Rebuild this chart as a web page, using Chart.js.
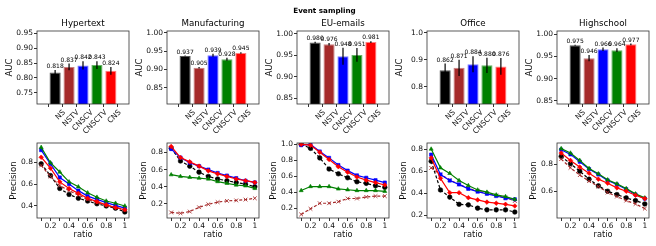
<!DOCTYPE html>
<html>
<head>
<meta charset="utf-8">
<script src="https://cdn.jsdelivr.net/npm/chart.js@4.4.0/dist/chart.umd.min.js"></script>
<style>
  body { margin: 0; background: #fff; }
  #fig { position: relative; width: 656px; height: 246px; overflow: hidden; }
  #fig canvas { position: absolute; }
</style>
</head>
<body>
<div id="fig"></div>
<script>
const methods = ['NS', 'NSTV', 'CNSCV', 'CNSCTV', 'CNS'];
const colors = ['#000000', '#a52a2a', '#0000ff', '#008000', '#ff0000'];
const edgeColors = ['#555555', '#c98080', '#7a7aff', '#66b366', '#ff8080'];
const networks = ['Hypertext', 'Manufacturing', 'EU-emails', 'Office', 'Highschool'];

// AUC bars (top row)
const aucHypertext = [0.818, 0.837, 0.842, 0.843, 0.824];
const aucManufacturing = [0.937, 0.905, 0.939, 0.928, 0.945];
const aucEuEmails = [0.980, 0.976, 0.948, 0.951, 0.981];
const aucOffice = [0.862, 0.871, 0.884, 0.880, 0.876];
const aucHighschool = [0.975, 0.946, 0.966, 0.964, 0.977];

const errHypertext = [0.009, 0.011, 0.014, 0.013, 0.013];
const errManufacturing = [0.001, 0.002, 0.004, 0.004, 0.002];
const errEuEmails = [0.002, 0.003, 0.020, 0.016, 0.002];
const errOffice = [0.025, 0.030, 0.030, 0.028, 0.031];
const errHighschool = [0.001, 0.007, 0.004, 0.004, 0.002];

const aucLimits = [[0.713, 0.957], [0.806, 1.005], [0.836, 1.007], [0.737, 1.007], [0.843, 1.007]];
const aucTicks = [
  [0.75, 0.80, 0.85, 0.90, 0.95],
  [0.85, 0.90, 0.95, 1.00],
  [0.85, 0.90, 0.95, 1.00],
  [0.8, 0.9, 1.0],
  [0.85, 0.90, 0.95, 1.00]
];
const aucDecimals = [2, 2, 2, 1, 2];

// Precision curves (bottom row), one row per method: NS, NSTV, CNSCV, CNSCTV, CNS
const ratios = [0.1, 0.2, 0.3, 0.4, 0.5, 0.6, 0.7, 0.8, 0.9, 1.0];
const precHypertext = [
  [0.785, 0.677, 0.560, 0.505, 0.470, 0.445, 0.420, 0.400, 0.380, 0.345],
  [0.770, 0.670, 0.585, 0.540, 0.500, 0.460, 0.430, 0.405, 0.390, 0.365],
  [0.910, 0.785, 0.660, 0.600, 0.540, 0.490, 0.460, 0.430, 0.405, 0.380],
  [0.935, 0.795, 0.710, 0.620, 0.575, 0.520, 0.480, 0.445, 0.425, 0.400],
  [0.845, 0.745, 0.620, 0.560, 0.515, 0.470, 0.440, 0.410, 0.385, 0.365]
];
const precManufacturing = [
  [0.850, 0.700, 0.640, 0.570, 0.520, 0.490, 0.470, 0.450, 0.430, 0.400],
  [0.100, 0.090, 0.110, 0.160, 0.195, 0.220, 0.235, 0.240, 0.250, 0.265],
  [0.840, 0.740, 0.680, 0.640, 0.600, 0.560, 0.530, 0.500, 0.470, 0.450],
  [0.540, 0.520, 0.510, 0.500, 0.490, 0.460, 0.440, 0.420, 0.410, 0.380],
  [0.870, 0.740, 0.690, 0.640, 0.585, 0.550, 0.520, 0.490, 0.470, 0.450]
];
const precEuEmails = [
  [1.000, 0.950, 0.830, 0.690, 0.630, 0.580, 0.530, 0.510, 0.480, 0.460],
  [0.120, 0.190, 0.260, 0.260, 0.280, 0.320, 0.320, 0.340, 0.350, 0.350],
  [0.990, 1.000, 0.910, 0.830, 0.740, 0.670, 0.610, 0.580, 0.550, 0.520],
  [0.420, 0.470, 0.470, 0.470, 0.440, 0.430, 0.420, 0.420, 0.420, 0.410],
  [1.000, 0.990, 0.900, 0.810, 0.720, 0.650, 0.590, 0.550, 0.520, 0.490]
];
const precOffice = [
  [0.690, 0.430, 0.365, 0.300, 0.295, 0.265, 0.250, 0.250, 0.250, 0.230],
  [0.630, 0.570, 0.520, 0.480, 0.445, 0.420, 0.400, 0.380, 0.360, 0.330],
  [0.750, 0.570, 0.515, 0.480, 0.440, 0.415, 0.395, 0.375, 0.355, 0.345],
  [0.800, 0.630, 0.580, 0.515, 0.470, 0.430, 0.410, 0.385, 0.370, 0.345],
  [0.720, 0.535, 0.405, 0.405, 0.360, 0.340, 0.320, 0.310, 0.300, 0.285]
];
const precHighschool = [
  [0.860, 0.805, 0.750, 0.690, 0.640, 0.600, 0.575, 0.550, 0.530, 0.505],
  [0.840, 0.775, 0.720, 0.675, 0.635, 0.590, 0.560, 0.530, 0.505, 0.470],
  [0.910, 0.875, 0.820, 0.765, 0.725, 0.680, 0.650, 0.615, 0.575, 0.545],
  [0.918, 0.885, 0.830, 0.770, 0.730, 0.685, 0.655, 0.620, 0.580, 0.550],
  [0.885, 0.830, 0.780, 0.735, 0.690, 0.660, 0.625, 0.600, 0.570, 0.545]
];
const precLimits = [[0.29, 0.975], [0.035, 0.91], [0.075, 1.017], [0.176, 0.855], [0.40, 0.96]];
const precTicks = [
  [0.4, 0.6, 0.8],
  [0.2, 0.4, 0.6, 0.8],
  [0.2, 0.4, 0.6, 0.8, 1.0],
  [0.2, 0.4, 0.6, 0.8],
  [0.6, 0.8]
];

const aucValues = [aucHypertext, aucManufacturing, aucEuEmails, aucOffice, aucHighschool];
const aucErrors = [errHypertext, errManufacturing, errEuEmails, errOffice, errHighschool];
const precValues = [precHypertext, precManufacturing, precEuEmails, precOffice, precHighschool];
const pointStyles = ['circle', 'crossRot', 'rect', 'triangle', 'rectRot'];
const dashes = [[3, 2], [3, 2], [], [], []];

Chart.defaults.font.family = 'DejaVu Sans';
Chart.defaults.color = '#111';
Chart.defaults.animation = false;

const fig = document.getElementById('fig');

function makeCanvas(left, top, w, h) {
  const c = document.createElement('canvas');
  c.width = w; c.height = h;
  c.style.left = left + 'px'; c.style.top = top + 'px';
  c.style.width = w + 'px'; c.style.height = h + 'px';
  fig.appendChild(c);
  return c;
}

// full box around the axes, like matplotlib spines
const framePlugin = {
  id: 'frame',
  afterDatasetsDraw(chart) {
    const a = chart.chartArea, ctx = chart.ctx;
    ctx.save();
    ctx.strokeStyle = '#333';
    ctx.lineWidth = 0.8;
    ctx.strokeRect(a.left, a.top, a.right - a.left, a.bottom - a.top);
    ctx.restore();
  }
};

// error bars + value labels on top of bars
const errorBarPlugin = {
  id: 'errbars',
  afterDatasetsDraw(chart, args, opts) {
    const xs = chart.scales.x, ys = chart.scales.y, ctx = chart.ctx;
    ctx.save();
    opts.values.forEach((v, i) => {
      const e = opts.errors[i];
      const x = xs.getPixelForValue(i);
      const y1 = ys.getPixelForValue(v - e), y2 = ys.getPixelForValue(v + e);
      ctx.strokeStyle = '#000';
      ctx.lineWidth = 1.2;
      ctx.beginPath(); ctx.moveTo(x, y1); ctx.lineTo(x, y2); ctx.stroke();
      ctx.fillStyle = '#000';
      ctx.font = '6px "DejaVu Sans"';
      ctx.textAlign = 'center';
      ctx.textBaseline = 'bottom';
      ctx.fillText(v.toFixed(3), x, y2 - 0.5);
    });
    ctx.restore();
  }
};

function yAxis(limits, ticks, decimals, label, titlePad) {
  return {
    type: 'linear', min: limits[0], max: limits[1],
    afterBuildTicks: s => { s.ticks = ticks.map(v => ({ value: v })); },
    afterFit: s => { s.width = 37; },
    grid: { drawOnChartArea: false, tickLength: 3, color: '#333' },
    border: { display: false },
    ticks: { font: { size: 7.5 }, padding: 1, callback: v => v.toFixed(decimals) },
    title: { display: true, text: label, font: { size: 8.6, lineHeight: 1 }, padding: { top: titlePad, bottom: 0 } }
  };
}

networks.forEach((name, k) => {
  // ---- top row: AUC bars ----
  const c1 = makeCanvas(130 * k, 0, 130, 135);
  const vals = aucValues[k];
  const plugins = {
    legend: { display: false },
    tooltip: { enabled: false },
    subtitle: {
      display: true, text: name, fullSize: false, color: '#000',
      font: { size: 8.7, lineHeight: 1 },
      padding: { top: k === 2 ? 4.95 : 19.65, bottom: 2.65 }
    },
    title: {
      display: k === 2, text: 'Event sampling', color: '#000',
      font: { size: 7.2, weight: 'bold', lineHeight: 1 },
      padding: { top: 7.5, bottom: 0 }
    },
    errbars: { values: vals, errors: aucErrors[k] }
  };
  new Chart(c1, {
    type: 'bar',
    data: {
      datasets: [{
        data: vals.map((v, i) => ({ x: i, y: v })),
        backgroundColor: colors,
        borderColor: edgeColors,
        borderWidth: 1,
        borderSkipped: 'start',
        barPercentage: 0.8,
        categoryPercentage: 1
      }]
    },
    options: {
      responsive: false,
      layout: { padding: { left: 0, right: 1, top: 0, bottom: 0 } },
      plugins,
      scales: {
        x: {
          type: 'linear', min: -0.64, max: 4.64,
          afterBuildTicks: s => { s.ticks = methods.map((m, i) => ({ value: i })); },
          afterFit: s => { s.height = 31; },
          grid: { drawOnChartArea: false, tickLength: 3, color: '#333' },
          border: { display: false },
          ticks: {
            font: { size: 7.5 }, padding: 1, minRotation: 45, maxRotation: 45,
            labelOffset: 9, autoSkip: false,
            callback: v => methods[v]
          }
        },
        y: yAxis(aucLimits[k], aucTicks[k], aucDecimals[k], 'AUC', 5.6)
      }
    },
    plugins: [framePlugin, errorBarPlugin]
  });

  // ---- bottom row: precision vs ratio ----
  const c2 = makeCanvas(130 * k, 128, 130, 118);
  new Chart(c2, {
    type: 'line',
    data: {
      datasets: methods.map((m, i) => ({
        label: m,
        data: ratios.map((r, j) => ({ x: r, y: precValues[k][i][j] })),
        borderColor: colors[i],
        backgroundColor: colors[i],
        borderWidth: 1.2,
        borderDash: dashes[i],
        pointStyle: pointStyles[i],
        pointRadius: i === 1 ? 2.6 : 2.3,
        pointBorderWidth: i === 1 ? 0.9 : 0.6,
        order: methods.length - 1 - i,
        tension: 0
      }))
    },
    options: {
      responsive: false,
      layout: { autoPadding: false, padding: { left: 0, right: 1, top: 15, bottom: 0 } },
      plugins: { legend: { display: false }, tooltip: { enabled: false } },
      scales: {
        x: {
          type: 'linear', min: 0.055, max: 1.045,
          afterBuildTicks: s => { s.ticks = ratios.map(v => ({ value: v })); },
          afterFit: s => { s.height = 28; },
          grid: { drawOnChartArea: false, tickLength: 3, color: '#333' },
          border: { display: false },
          ticks: {
            font: { size: 7.5 }, padding: 1, maxRotation: 0, autoSkip: false,
            callback: (v, idx) => idx % 2 === 1 ? (v === 1 ? '1' : v.toFixed(1)) : ''
          },
          title: { display: true, text: 'ratio', font: { size: 8.2, lineHeight: 1 }, padding: { top: 0, bottom: 7 } }
        },
        y: yAxis(precLimits[k], precTicks[k], 1, 'Precision', 9.6)
      }
    },
    plugins: [framePlugin]
  });
});
</script>
</body>
</html>
